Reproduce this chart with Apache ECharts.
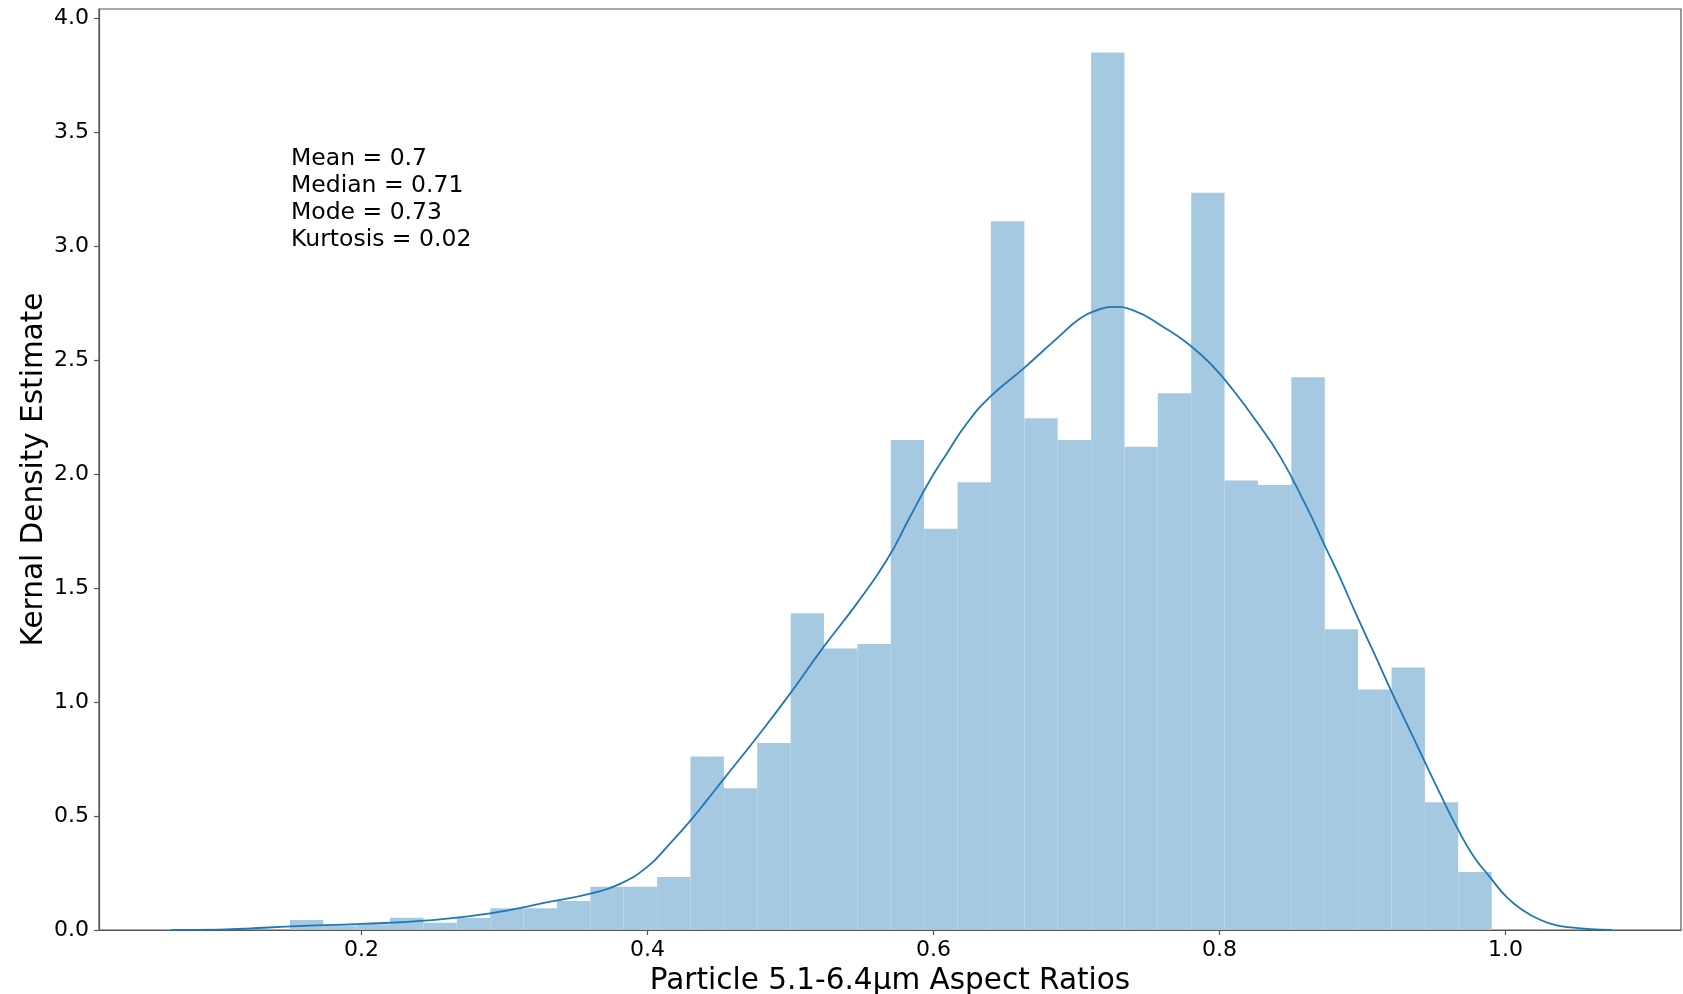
<!DOCTYPE html>
<html>
<head>
<meta charset="utf-8">
<script src="https://cdn.jsdelivr.net/npm/echarts@6/dist/echarts.min.js"></script>
<style>
  html, body { margin: 0; padding: 0; background: #fff; }
  #chart { width: 1683px; height: 994px; }
</style>
</head>
<body>
<div id="chart"></div>
<script>
// Histogram bin edges (36 equal bins) and bar heights (density)
const histEdges = [0.1499, 0.1732, 0.1966, 0.2199, 0.2433, 0.2666, 0.2900, 0.3133, 0.3367, 0.3600,
  0.3833, 0.4067, 0.4300, 0.4534, 0.4767, 0.5001, 0.5234, 0.5468, 0.5701, 0.5934,
  0.6168, 0.6401, 0.6635, 0.6868, 0.7102, 0.7335, 0.7568, 0.7802, 0.8035, 0.8269,
  0.8502, 0.8736, 0.8969, 0.9203, 0.9436, 0.9669, 0.9903];
const histDensity = [0.044, 0.020, 0.025, 0.054, 0.032, 0.053, 0.095, 0.095, 0.127, 0.190,
  0.190, 0.232, 0.761, 0.622, 0.820, 1.390, 1.235, 1.255, 2.150, 1.760,
  1.965, 3.110, 2.245, 2.150, 3.850, 2.120, 2.355, 3.235, 1.972, 1.953,
  2.425, 1.320, 1.055, 1.152, 0.560, 0.255];

// Kernel density estimate curve
const kdeX = [0.0667, 0.100, 0.120, 0.151, 0.200, 0.244, 0.290, 0.332, 0.360, 0.380,
  0.400, 0.415, 0.430, 0.4416, 0.4532, 0.4765, 0.4997, 0.523, 0.5463, 0.5672,
  0.5835, 0.5975, 0.6092, 0.6232, 0.6395, 0.6628, 0.6861, 0.7024, 0.7141, 0.7257,
  0.7397, 0.7607, 0.7793, 0.7957, 0.8096, 0.826, 0.8423, 0.8610,
  0.8726, 0.8843, 0.8959, 0.9099, 0.9192, 0.9309, 0.9425, 0.9542, 0.967, 0.9775,
  0.9891, 1.0008, 1.0124, 1.0241, 1.0358, 1.0474, 1.059, 1.0743];
const kdeY = [0.000, 0.002, 0.006, 0.016, 0.027, 0.041, 0.073, 0.124, 0.160, 0.200,
  0.278, 0.375, 0.480, 0.570, 0.662, 0.846, 1.037, 1.241, 1.432, 1.622,
  1.812, 1.973, 2.090, 2.222, 2.339, 2.463, 2.595, 2.683, 2.719, 2.734,
  2.719, 2.646, 2.566, 2.471, 2.368, 2.230, 2.078, 1.855,
  1.700, 1.545, 1.380, 1.190, 1.060, 0.905, 0.752, 0.598, 0.438, 0.325,
  0.232, 0.144, 0.086, 0.045, 0.020, 0.010, 0.004, 0.000];

const xTicks = [0.2, 0.4, 0.6, 0.8, 1.0];
const yTicks = [0.0, 0.5, 1.0, 1.5, 2.0, 2.5, 3.0, 3.5, 4.0];
const statsLines = ['Mean = 0.7', 'Median = 0.71', 'Mode = 0.73', 'Kurtosis = 0.02'];
const xTitle = 'Particle 5.1-6.4µm Aspect Ratios';
const yTitle = 'Kernal Density Estimate';

const FONT = 'DejaVu Sans';
const AXIS_COLOR = '#555';
const BAR_COLOR = '#a5c9e1';
const LINE_COLOR = '#1f77b4';

const chart = echarts.init(document.getElementById('chart'), null, { renderer: 'canvas' });

const barData = histDensity.map((h, i) => [histEdges[i], histEdges[i + 1], h]);
const kdeData = kdeX.map((x, i) => [x, kdeY[i]]);

const option = {
  animation: false,
  backgroundColor: '#fff',
  grid: {
    left: 99, right: 2, top: 9, bottom: 64,
    outerBoundsMode: 'none',
    containLabel: false,
    show: true, borderColor: AXIS_COLOR, borderWidth: 1.2, backgroundColor: 'transparent'
  },
  xAxis: {
    type: 'value',
    min: 0.0164, max: 1.1227,
    name: xTitle,
    nameLocation: 'middle',
    nameGap: 36,
    nameMoveOverlap: false,
    nameTextStyle: { fontFamily: FONT, fontSize: 29.5, color: '#000' },
    axisLine: { show: true, onZero: false, lineStyle: { color: AXIS_COLOR, width: 1.2 } },
    axisTick: { show: true, inside: false, length: 5, customValues: xTicks, lineStyle: { color: AXIS_COLOR, width: 1.2 } },
    axisLabel: { customValues: xTicks, formatter: v => Number(v).toFixed(1), fontFamily: FONT, fontSize: 22, color: '#000', margin: 9 },
    splitLine: { show: false }
  },
  yAxis: {
    type: 'value',
    min: 0, max: 4.041,
    name: yTitle,
    nameLocation: 'middle',
    nameRotate: 90,
    nameGap: 50,
    nameMoveOverlap: false,
    nameTextStyle: { fontFamily: FONT, fontSize: 29.5, color: '#000' },
    axisLine: { show: true, lineStyle: { color: AXIS_COLOR, width: 1.2 } },
    axisTick: { show: true, inside: false, length: 5, customValues: yTicks, lineStyle: { color: AXIS_COLOR, width: 1.2 } },
    axisLabel: { customValues: yTicks, formatter: v => Number(v).toFixed(1), fontFamily: FONT, fontSize: 22, color: '#000', margin: 10 },
    splitLine: { show: false }
  },
  series: [
    {
      type: 'custom',
      name: 'hist',
      data: barData,
      encode: { x: [0, 1], y: 2 },
      clip: true,
      renderItem: function (params, api) {
        const lo = api.value(0), hi = api.value(1), h = api.value(2);
        const p0 = api.coord([lo, h]);
        const p1 = api.coord([hi, 0]);
        return {
          type: 'rect',
          shape: { x: p0[0], y: p0[1], width: p1[0] - p0[0], height: p1[1] - p0[1] },
          style: { fill: BAR_COLOR }
        };
      },
      z: 1
    },
    {
      type: 'line',
      name: 'kde',
      data: kdeData,
      showSymbol: false,
      smooth: 0.5,
      lineStyle: { color: LINE_COLOR, width: 1.8 },
      z: 3
    }
  ],
  graphic: [
    {
      type: 'text',
      left: 291,
      top: 146,
      z: 10,
      style: {
        text: statsLines.join('\n'),
        fontFamily: FONT,
        fontSize: 23.5,
        lineHeight: 26.7,
        fill: '#000'
      }
    }
  ]
};

chart.setOption(option);
</script>
</body>
</html>
